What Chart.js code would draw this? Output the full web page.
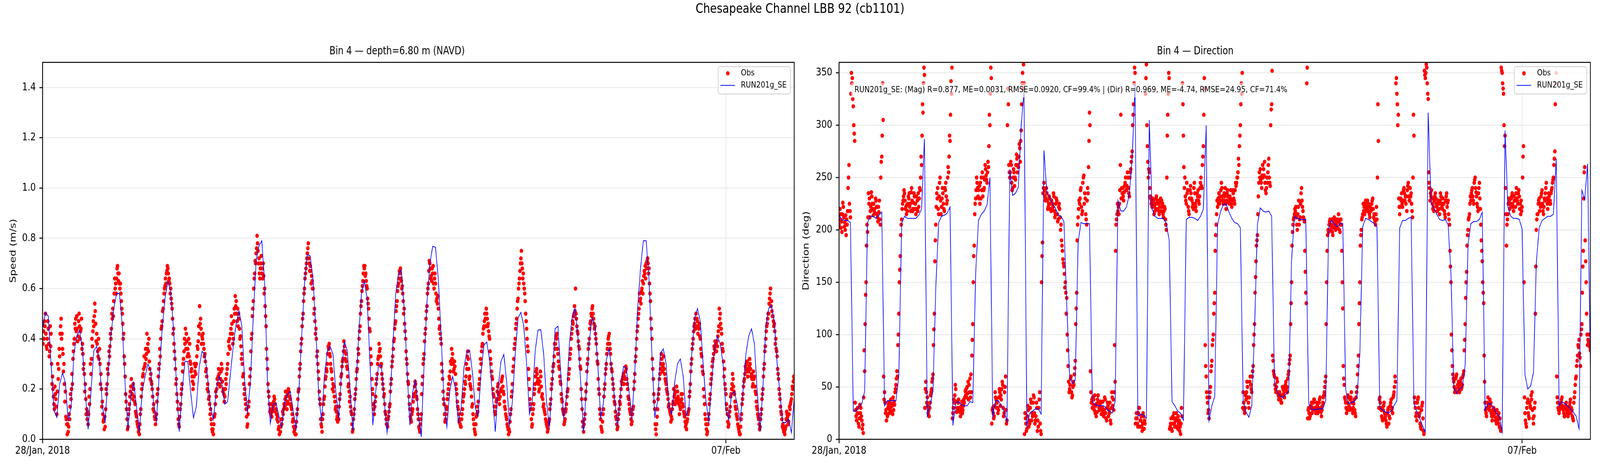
<!DOCTYPE html>
<html>
<head>
<meta charset="utf-8">
<script src="https://cdn.jsdelivr.net/npm/chart.js@4.4.1/dist/chart.umd.min.js"></script>
<style>
  html, body { margin: 0; padding: 0; background: #fff; overflow: hidden; }
  #wrap { position: relative; width: 5000px; height: 1200px; overflow: hidden; transform-origin: 0 0; }
  #suptitle { position: absolute; left: 0; top: 4px; width: 5000px; text-align: center;
              font: 34px "DejaVu Sans", sans-serif; line-height: 34px; color: #000; }
  canvas { position: absolute; top: 0; }
</style>
</head>
<body>
<div id="wrap">
  <div id="suptitle">Chesapeake Channel LBB 92 (cb1101)</div>
  <canvas id="chartSpeed" width="2615" height="1200" style="left:0px"></canvas>
  <canvas id="chartDir" width="2592" height="1200" style="left:2500px"></canvas>
</div>
<script>
// hours since 28 Jan 2018 00:00
const xTickHours = [0, 240];
const xTickLabels = ['28/Jan, 2018', '07/Feb'];
const speedTicks = [0, 0.2, 0.4, 0.6, 0.8, 1.0, 1.2, 1.4];
const dirTicks = [0, 50, 100, 150, 200, 250, 300, 350];

// obs come every 10 min: the A arrays hold :00/:30, B :10/:40, C :20/:50
const obsStepHours = 0.5;
const obsOffsetB = 1 / 6;
const obsOffsetC = 2 / 6;
const modelStepHours = 1;

// observed speed (m/s)
const obsSpeed = [
  0.46,0.40,0.50,0.36,0.44,0.35,0.42,0.25,0.14,0.18,0.10,0.24,0.33,0.48,0.36,0.30,0.19,0.06,0.03,0.08,0.16,0.22,0.38,0.44,
  0.49,0.41,0.45,0.44,0.38,0.30,0.22,0.12,0.06,0.14,0.26,0.37,0.45,0.51,0.42,0.33,0.36,0.26,0.15,0.08,0.05,0.18,0.26,0.33,
  0.40,0.48,0.55,0.60,0.64,0.66,0.62,0.58,0.50,0.42,0.25,0.12,0.05,0.14,0.21,0.18,0.20,0.14,0.09,0.05,0.02,0.12,0.22,0.28,
  0.30,0.34,0.38,0.31,0.26,0.20,0.14,0.08,0.10,0.20,0.30,0.40,0.47,0.55,0.61,0.66,0.68,0.64,0.60,0.52,0.44,0.32,0.24,0.12,
  0.05,0.14,0.22,0.32,0.38,0.42,0.36,0.33,0.30,0.25,0.22,0.27,0.30,0.36,0.42,0.48,0.41,0.38,0.34,0.28,0.22,0.17,0.12,0.04,
  0.02,0.10,0.17,0.22,0.26,0.24,0.28,0.20,0.17,0.22,0.30,0.37,0.42,0.46,0.40,0.50,0.55,0.52,0.48,0.41,0.34,0.26,0.20,0.12,
  0.06,0.15,0.28,0.42,0.55,0.66,0.74,0.78,0.72,0.68,0.66,0.70,0.60,0.45,0.28,0.17,0.12,0.09,0.13,0.16,0.12,0.09,0.05,0.03,
  0.06,0.10,0.13,0.17,0.15,0.19,0.16,0.12,0.08,0.04,0.02,0.12,0.20,0.30,0.40,0.50,0.60,0.68,0.74,0.72,0.69,0.65,0.60,0.52,
  0.44,0.35,0.24,0.14,0.05,0.10,0.17,0.25,0.30,0.36,0.33,0.27,0.22,0.17,0.13,0.09,0.08,0.18,0.26,0.32,0.37,0.34,0.28,0.22,
  0.17,0.10,0.04,0.12,0.20,0.28,0.34,0.45,0.55,0.63,0.68,0.66,0.60,0.52,0.43,0.30,0.18,0.10,0.17,0.26,0.33,0.36,0.30,0.22,
  0.18,0.10,0.06,0.09,0.14,0.24,0.33,0.40,0.47,0.55,0.62,0.66,0.63,0.58,0.52,0.40,0.30,0.22,0.12,0.07,0.12,0.18,0.22,0.16,
  0.08,0.03,0.10,0.25,0.34,0.44,0.53,0.62,0.70,0.65,0.66,0.60,0.62,0.56,0.52,0.45,0.38,0.24,0.14,0.08,0.12,0.20,0.24,0.30,
  0.34,0.28,0.26,0.18,0.12,0.08,0.05,0.12,0.18,0.22,0.28,0.32,0.25,0.20,0.14,0.06,0.02,0.10,0.15,0.24,0.30,0.38,0.45,0.48,
  0.50,0.46,0.40,0.30,0.24,0.17,0.10,0.16,0.22,0.14,0.20,0.25,0.18,0.12,0.08,0.04,0.03,0.12,0.22,0.32,0.40,0.48,0.56,0.64,
  0.72,0.68,0.62,0.55,0.44,0.35,0.20,0.12,0.06,0.14,0.22,0.28,0.24,0.20,0.25,0.18,0.14,0.10,0.06,0.04,0.08,0.16,0.24,0.30,
  0.36,0.40,0.34,0.28,0.22,0.15,0.10,0.08,0.14,0.20,0.28,0.36,0.44,0.49,0.51,0.48,0.42,0.36,0.28,0.12,0.03,0.10,0.22,0.32,
  0.40,0.47,0.52,0.48,0.45,0.38,0.30,0.18,0.08,0.03,0.12,0.22,0.30,0.38,0.42,0.34,0.27,0.20,0.14,0.08,0.05,0.12,0.17,0.22,
  0.26,0.24,0.28,0.20,0.14,0.10,0.07,0.13,0.26,0.36,0.45,0.52,0.56,0.60,0.62,0.66,0.70,0.72,0.68,0.55,0.40,0.24,0.12,0.02,
  0.12,0.20,0.28,0.32,0.30,0.26,0.22,0.18,0.14,0.10,0.08,0.15,0.18,0.16,0.19,0.14,0.12,0.16,0.13,0.09,0.06,0.08,0.12,0.22,
  0.32,0.40,0.46,0.50,0.47,0.44,0.40,0.33,0.26,0.14,0.06,0.03,0.10,0.18,0.26,0.32,0.36,0.38,0.37,0.45,0.50,0.42,0.35,0.28,
  0.18,0.10,0.06,0.13,0.20,0.24,0.18,0.12,0.08,0.04,0.02,0.10,0.18,0.24,0.28,0.31,0.27,0.30,0.26,0.22,0.25,0.18,0.12,0.08,
  0.05,0.12,0.20,0.30,0.40,0.46,0.50,0.58,0.55,0.49,0.46,0.40,0.33,0.24,0.16,0.10,0.06,0.03,0.05,0.10,0.07,0.12,0.16,0.20,
  0.24
];
const obsSpeedB = [
  0.38,0.47,0.42,0.40,0.38,0.45,0.30,0.20,0.12,0.16,0.19,0.28,0.42,0.40,0.34,0.22,0.09,0.02,0.05,0.13,0.20,0.32,0.40,0.48,
  0.44,0.47,0.40,0.48,0.34,0.26,0.16,0.08,0.10,0.20,0.32,0.43,0.49,0.46,0.38,0.40,0.30,0.20,0.10,0.04,0.12,0.22,0.30,0.37,
  0.44,0.52,0.58,0.62,0.68,0.63,0.60,0.55,0.46,0.33,0.18,0.08,0.10,0.17,0.24,0.16,0.17,0.11,0.07,0.03,0.06,0.17,0.25,0.33,
  0.36,0.42,0.35,0.28,0.23,0.17,0.11,0.06,0.15,0.25,0.36,0.44,0.51,0.58,0.64,0.67,0.66,0.62,0.56,0.48,0.38,0.28,0.18,0.08,
  0.09,0.18,0.27,0.35,0.44,0.39,0.34,0.38,0.27,0.23,0.25,0.29,0.33,0.39,0.53,0.44,0.40,0.36,0.31,0.25,0.19,0.14,0.08,0.03,
  0.06,0.14,0.20,0.25,0.22,0.27,0.23,0.18,0.20,0.26,0.34,0.40,0.44,0.42,0.47,0.57,0.50,0.45,0.44,0.37,0.30,0.22,0.16,0.09,
  0.10,0.22,0.35,0.49,0.60,0.71,0.76,0.75,0.66,0.70,0.68,0.65,0.53,0.36,0.22,0.14,0.10,0.11,0.15,0.14,0.10,0.07,0.02,0.05,
  0.08,0.12,0.16,0.14,0.18,0.17,0.14,0.10,0.05,0.02,0.07,0.16,0.25,0.35,0.45,0.55,0.64,0.70,0.76,0.70,0.67,0.63,0.56,0.47,
  0.40,0.30,0.19,0.08,0.03,0.14,0.21,0.28,0.34,0.38,0.30,0.24,0.19,0.15,0.11,0.07,0.13,0.22,0.29,0.35,0.35,0.31,0.25,0.19,
  0.13,0.06,0.08,0.16,0.24,0.31,0.40,0.50,0.59,0.66,0.69,0.63,0.56,0.48,0.36,0.24,0.14,0.13,0.22,0.30,0.38,0.33,0.26,0.20,
  0.14,0.08,0.05,0.11,0.19,0.29,0.36,0.44,0.51,0.59,0.64,0.68,0.60,0.55,0.46,0.35,0.26,0.17,0.09,0.10,0.15,0.21,0.19,0.12,
  0.05,0.06,0.18,0.30,0.39,0.48,0.58,0.67,0.68,0.63,0.69,0.64,0.58,0.54,0.48,0.42,0.30,0.19,0.10,0.10,0.16,0.22,0.27,0.36,
  0.30,0.31,0.22,0.15,0.10,0.06,0.08,0.15,0.20,0.25,0.33,0.28,0.22,0.17,0.10,0.04,0.06,0.13,0.20,0.27,0.35,0.42,0.47,0.45,
  0.48,0.43,0.35,0.27,0.20,0.13,0.13,0.19,0.18,0.17,0.23,0.21,0.15,0.10,0.06,0.02,0.07,0.17,0.27,0.36,0.44,0.52,0.60,0.67,
  0.75,0.64,0.60,0.50,0.40,0.28,0.16,0.08,0.10,0.18,0.25,0.26,0.22,0.23,0.21,0.16,0.12,0.08,0.05,0.06,0.12,0.20,0.27,0.33,
  0.38,0.42,0.31,0.25,0.18,0.12,0.06,0.11,0.17,0.24,0.32,0.40,0.47,0.50,0.60,0.45,0.39,0.32,0.20,0.07,0.06,0.16,0.27,0.36,
  0.44,0.50,0.53,0.46,0.42,0.34,0.24,0.12,0.05,0.07,0.17,0.26,0.34,0.40,0.38,0.30,0.24,0.17,0.11,0.06,0.08,0.15,0.20,0.24,
  0.22,0.27,0.24,0.17,0.12,0.08,0.10,0.20,0.31,0.40,0.48,0.58,0.54,0.63,0.65,0.69,0.68,0.70,0.62,0.48,0.32,0.18,0.06,0.06,
  0.16,0.24,0.30,0.27,0.33,0.24,0.20,0.16,0.12,0.07,0.12,0.20,0.14,0.21,0.17,0.10,0.15,0.18,0.11,0.07,0.04,0.10,0.17,0.27,
  0.36,0.43,0.48,0.45,0.42,0.46,0.36,0.29,0.20,0.10,0.04,0.06,0.14,0.22,0.29,0.34,0.39,0.35,0.41,0.52,0.46,0.38,0.31,0.22,
  0.14,0.07,0.09,0.17,0.22,0.21,0.15,0.10,0.06,0.03,0.05,0.14,0.21,0.26,0.30,0.25,0.29,0.28,0.24,0.27,0.21,0.15,0.10,0.06,
  0.08,0.16,0.25,0.35,0.43,0.48,0.54,0.60,0.51,0.47,0.43,0.36,0.28,0.20,0.13,0.08,0.04,0.02,0.08,0.09,0.10,0.14,0.18,0.23
];
const obsSpeedC = [
  0.43,0.45,0.37,0.47,0.33,0.37,0.22,0.17,0.21,0.13,0.30,0.36,0.45,0.42,0.27,0.15,0.08,0.06,0.10,0.18,0.26,0.35,0.46,0.43,
  0.39,0.50,0.43,0.36,0.28,0.19,0.10,0.11,0.17,0.30,0.40,0.47,0.54,0.39,0.35,0.32,0.22,0.13,0.07,0.09,0.20,0.28,0.35,0.42,
  0.50,0.49,0.64,0.58,0.69,0.66,0.62,0.52,0.40,0.30,0.15,0.04,0.12,0.19,0.21,0.22,0.15,0.10,0.06,0.04,0.10,0.20,0.26,0.29,
  0.32,0.36,0.40,0.24,0.22,0.12,0.09,0.08,0.18,0.28,0.33,0.45,0.52,0.60,0.62,0.69,0.63,0.58,0.54,0.42,0.35,0.22,0.15,0.06,
  0.12,0.20,0.30,0.40,0.36,0.33,0.40,0.31,0.28,0.20,0.30,0.26,0.37,0.45,0.46,0.38,0.42,0.33,0.27,0.20,0.16,0.10,0.06,0.04,
  0.09,0.19,0.24,0.28,0.21,0.30,0.19,0.15,0.24,0.28,0.39,0.36,0.49,0.38,0.52,0.53,0.47,0.50,0.40,0.32,0.25,0.18,0.14,0.05,
  0.13,0.25,0.40,0.52,0.64,0.70,0.81,0.70,0.64,0.73,0.64,0.58,0.49,0.32,0.19,0.11,0.14,0.12,0.17,0.11,0.08,0.04,0.05,0.08,
  0.11,0.14,0.19,0.12,0.20,0.14,0.13,0.07,0.03,0.05,0.10,0.19,0.28,0.38,0.48,0.58,0.66,0.72,0.78,0.67,0.62,0.60,0.50,0.42,
  0.33,0.27,0.16,0.06,0.08,0.16,0.24,0.27,0.37,0.34,0.28,0.20,0.21,0.12,0.08,0.10,0.16,0.25,0.31,0.39,0.32,0.29,0.21,0.15,
  0.11,0.03,0.10,0.18,0.27,0.36,0.43,0.53,0.61,0.69,0.65,0.61,0.54,0.44,0.33,0.20,0.12,0.15,0.24,0.32,0.35,0.29,0.24,0.17,
  0.11,0.06,0.08,0.13,0.22,0.31,0.39,0.46,0.53,0.61,0.67,0.64,0.61,0.50,0.43,0.32,0.23,0.14,0.08,0.11,0.17,0.23,0.17,0.10,
  0.04,0.08,0.22,0.32,0.42,0.51,0.60,0.71,0.64,0.68,0.62,0.66,0.55,0.57,0.44,0.40,0.27,0.16,0.07,0.13,0.18,0.25,0.31,0.32,
  0.27,0.29,0.20,0.13,0.07,0.05,0.10,0.17,0.23,0.30,0.35,0.24,0.21,0.13,0.08,0.03,0.09,0.11,0.22,0.32,0.37,0.44,0.50,0.52,
  0.45,0.41,0.32,0.25,0.18,0.11,0.15,0.21,0.16,0.19,0.24,0.19,0.13,0.09,0.05,0.04,0.10,0.19,0.29,0.38,0.46,0.55,0.62,0.70,
  0.70,0.66,0.58,0.47,0.37,0.24,0.14,0.05,0.12,0.20,0.27,0.23,0.19,0.27,0.17,0.13,0.11,0.07,0.03,0.07,0.14,0.22,0.29,0.38,
  0.41,0.36,0.29,0.23,0.16,0.11,0.07,0.12,0.19,0.26,0.34,0.42,0.46,0.53,0.50,0.43,0.37,0.29,0.16,0.05,0.08,0.19,0.30,0.38,
  0.46,0.49,0.50,0.44,0.40,0.31,0.20,0.10,0.04,0.10,0.20,0.28,0.36,0.41,0.36,0.28,0.22,0.15,0.09,0.04,0.10,0.14,0.23,0.25,
  0.25,0.29,0.22,0.16,0.11,0.06,0.12,0.23,0.33,0.43,0.50,0.55,0.59,0.58,0.67,0.64,0.71,0.66,0.58,0.44,0.28,0.15,0.04,0.09,
  0.18,0.26,0.34,0.29,0.28,0.23,0.19,0.13,0.11,0.09,0.14,0.17,0.19,0.15,0.16,0.13,0.18,0.14,0.10,0.05,0.07,0.11,0.19,0.30,
  0.38,0.45,0.44,0.48,0.45,0.41,0.34,0.27,0.17,0.08,0.02,0.08,0.16,0.24,0.31,0.37,0.35,0.39,0.43,0.48,0.44,0.36,0.25,0.20,
  0.12,0.05,0.11,0.18,0.26,0.19,0.13,0.09,0.05,0.02,0.08,0.16,0.23,0.29,0.27,0.28,0.32,0.25,0.21,0.24,0.19,0.13,0.09,0.04,
  0.10,0.18,0.28,0.37,0.45,0.50,0.56,0.53,0.49,0.45,0.38,0.35,0.26,0.18,0.11,0.05,0.03,0.04,0.11,0.06,0.13,0.15,0.21,0.25
];

// modelled speed (m/s), hourly
const modelSpeed = [
  0.44,0.505,0.49,0.30,0.115,0.087,0.22,0.264,0.227,0.075,0.126,0.34,
  0.41,0.435,0.36,0.19,0.04,0.19,0.353,0.37,0.31,0.13,0.07,0.264,
  0.41,0.52,0.58,0.58,0.45,0.22,0.04,0.17,0.227,0.13,0.033,0.19,
  0.25,0.30,0.27,0.145,0.07,0.264,0.44,0.56,0.627,0.59,0.44,0.227,
  0.03,0.19,0.31,0.31,0.19,0.085,0.13,0.286,0.35,0.338,0.24,0.13,
  0.078,0.197,0.25,0.22,0.14,0.15,0.264,0.375,0.46,0.51,0.45,0.227,
  0.108,0.227,0.487,0.71,0.77,0.79,0.62,0.227,0.063,0.14,0.145,0.093,
  0.048,0.145,0.18,0.19,0.115,0.04,0.19,0.41,0.62,0.735,0.73,0.636,
  0.43,0.175,0.07,0.25,0.35,0.37,0.338,0.19,0.085,0.264,0.39,0.353,
  0.204,0.033,0.19,0.41,0.58,0.63,0.56,0.30,0.056,0.19,0.295,0.294,
  0.15,0.026,0.15,0.368,0.576,0.66,0.674,0.52,0.28,0.056,0.19,0.235,
  0.10,0.01,0.30,0.546,0.695,0.768,0.764,0.636,0.41,0.15,0.048,0.19,
  0.25,0.204,0.067,0.123,0.286,0.347,0.355,0.264,0.123,0.093,0.264,0.375,
  0.387,0.316,0.175,0.03,0.204,0.31,0.338,0.227,0.056,0.15,0.338,0.483,
  0.505,0.45,0.30,0.10,0.15,0.35,0.435,0.436,0.338,0.15,0.048,0.227,
  0.44,0.45,0.264,0.085,0.167,0.375,0.487,0.52,0.41,0.227,0.026,0.204,
  0.39,0.483,0.45,0.30,0.085,0.145,0.316,0.36,0.264,0.15,0.056,0.19,
  0.29,0.283,0.19,0.085,0.264,0.524,0.68,0.79,0.79,0.636,0.338,0.09,
  0.15,0.342,0.36,0.30,0.13,0.10,0.227,0.30,0.32,0.25,0.093,0.123,
  0.338,0.48,0.52,0.47,0.30,0.15,0.07,0.227,0.36,0.41,0.38,0.30,
  0.115,0.078,0.18,0.19,0.138,0.07,0.19,0.338,0.41,0.44,0.38,0.19,
  0.03,0.21,0.45,0.52,0.533,0.47,0.30,0.175,0.067,0.067,0.082,0.026,
  0.167
];

// observed direction (deg)
const obsDir = [
  205,215,198,222,207,195,218,262,212,340,318,285,22,30,12,25,18,6,65,150,198,225,218,232,
  214,220,228,212,217,205,270,305,45,28,22,35,30,26,40,33,52,60,120,175,210,228,235,222,
  218,230,225,240,220,232,215,228,222,238,262,312,348,55,40,28,35,48,62,120,205,230,215,250,
  222,235,218,245,228,255,285,330,25,35,48,30,38,26,32,28,35,42,50,38,58,45,110,185,
  230,245,238,225,250,232,240,258,245,260,300,345,30,22,40,35,28,45,38,52,25,60,18,320,
  250,262,240,255,248,268,260,278,295,350,340,20,10,28,15,35,22,40,18,30,12,45,5,188,
  245,228,235,222,230,218,225,232,215,228,210,220,205,180,165,150,135,70,48,60,42,52,75,140,
  212,225,240,218,252,230,205,235,312,45,30,38,25,34,42,28,35,30,22,38,18,32,25,15,
  40,28,55,210,218,225,310,235,228,245,238,250,232,258,275,320,350,25,12,30,18,8,22,15,
  358,265,255,230,222,228,218,232,225,215,230,222,212,220,200,310,345,15,8,20,12,25,10,18,
  5,22,290,250,225,238,215,242,228,220,235,218,232,225,245,240,280,335,60,35,20,50,75,100,
  140,205,222,235,228,240,225,232,220,238,228,230,222,235,225,242,250,262,300,330,45,25,38,50,
  30,60,45,70,110,170,195,245,258,240,250,265,235,245,268,242,320,75,60,45,55,38,42,35,
  48,40,55,45,65,80,150,205,215,222,200,228,212,240,218,208,140,355,30,22,35,28,38,25,
  32,28,40,22,35,45,60,180,198,210,205,195,212,200,208,215,198,205,125,52,35,28,40,30,
  45,25,38,22,50,80,150,200,215,222,228,218,225,212,220,230,215,205,210,285,40,28,18,35,
  22,12,30,20,38,25,45,55,330,310,215,228,222,240,232,218,245,228,235,212,290,30,18,40,
  25,10,35,5,345,355,325,240,232,225,218,235,222,228,215,232,220,225,212,235,228,205,150,70,
  55,48,62,50,45,58,52,65,110,160,200,215,228,240,225,250,232,218,245,205,170,130,35,22,
  40,28,35,18,30,25,15,22,12,8,350,330,290,185,215,228,222,235,218,228,240,225,232,215,
  222,280,25,12,38,20,30,45,15,35,200,215,230,222,238,215,228,245,220,232,225,240,250,275,
  350,35,25,30,40,28,22,35,30,25,38,28,18,45,60,80,95,70,110,180,260,150,90,100,
  85
];
const obsDirB = [
  210,202,215,212,200,210,240,225,330,345,300,35,18,25,20,30,10,40,110,185,212,230,222,225,
  225,216,222,208,228,250,290,60,35,18,30,25,38,32,28,45,58,90,150,195,220,232,228,215,
  225,235,218,228,226,220,232,218,230,250,290,340,30,45,32,22,42,55,90,170,222,240,232,228,
  230,225,240,232,250,270,310,355,30,42,36,28,30,22,36,32,40,48,44,52,40,80,150,215,
  238,240,230,245,238,250,248,252,255,280,330,15,25,32,38,30,40,32,48,30,45,28,300,262,
  255,245,250,242,262,255,270,265,320,335,5,15,22,12,30,18,35,25,22,8,30,15,150,235,
  238,230,228,225,220,228,222,218,225,215,222,212,190,172,158,140,100,55,52,45,50,62,110,190,
  220,230,222,245,225,215,228,260,300,35,40,28,32,26,35,32,24,36,28,25,30,22,35,30,
  32,45,180,215,222,238,230,240,236,250,242,240,250,265,300,340,15,20,25,12,22,15,10,330,
  300,250,240,225,230,215,225,220,228,222,218,225,218,210,250,330,10,20,15,25,18,12,22,8,
  15,340,260,232,245,222,230,235,222,240,225,228,238,232,250,262,310,90,45,25,40,65,90,120,
  180,215,230,225,238,232,228,240,228,232,225,238,228,230,238,245,255,280,320,350,35,30,45,40,
  40,52,60,90,140,185,215,255,248,252,258,245,240,255,250,300,352,65,52,50,45,40,38,42,
  42,50,48,58,72,110,185,210,220,212,215,205,225,228,212,180,130,20,25,30,25,35,30,30,
  25,35,30,28,40,50,110,195,205,200,210,202,205,210,202,208,205,180,70,40,30,35,32,38,
  35,30,28,40,62,110,185,210,225,215,222,228,218,222,225,220,210,215,250,30,35,22,28,25,
  18,25,15,32,28,40,50,340,320,230,222,235,228,235,225,238,232,240,225,250,40,22,35,30,
  15,28,20,352,350,340,255,228,238,220,228,230,218,225,228,225,230,218,228,222,215,180,100,62,
  50,58,45,55,52,48,60,85,135,185,210,225,235,232,245,240,225,235,230,190,150,80,28,30,
  32,38,25,28,22,18,28,15,20,355,340,300,240,205,225,220,230,225,232,222,230,235,220,228,
  250,150,18,30,25,35,42,28,22,120,210,225,218,232,225,222,235,230,228,225,235,245,262,320,
  60,30,28,35,32,25,30,28,22,32,25,22,35,52,70,90,82,100,140,230,190,120,95,90
];
const obsDirC = [
  220,208,226,203,214,205,250,218,350,325,292,28,24,15,33,22,14,85,138,205,235,212,236,220,
  218,230,215,222,210,265,340,38,25,24,33,28,34,24,36,48,65,100,162,205,225,238,220,224,
  232,222,236,218,235,225,220,235,240,270,320,355,48,35,25,30,45,58,105,190,235,220,245,215,
  240,220,238,225,260,290,342,20,38,52,26,35,28,30,25,38,46,40,55,45,62,95,175,225,
  250,232,242,230,255,238,262,248,265,310,355,28,20,45,30,25,48,42,55,22,50,15,335,255,
  265,238,258,250,272,262,282,285,340,358,25,8,32,18,38,25,42,15,35,18,38,8,175,240,
  232,240,220,232,225,220,235,212,230,208,225,200,185,168,145,120,85,45,58,40,55,68,125,205,
  228,238,215,250,235,210,240,285,65,38,32,42,22,38,30,36,28,25,40,20,35,28,18,45,
  38,90,205,225,215,262,240,232,242,238,255,235,255,270,310,355,20,15,30,18,12,25,18,345,
  280,258,232,228,225,222,230,228,218,226,228,215,222,205,290,350,12,10,22,15,20,18,15,12,
  30,320,240,228,235,218,238,230,225,245,222,235,228,240,242,270,345,70,40,28,45,70,95,130,
  195,228,225,232,245,228,235,225,235,226,232,225,238,228,245,250,268,290,340,30,28,42,55,35,
  55,48,65,100,155,190,232,250,245,262,252,238,250,262,245,315,80,62,48,58,42,45,35,50,
  45,52,50,62,76,130,198,212,218,205,222,210,235,222,210,160,340,28,20,32,30,38,28,35,
  30,38,26,32,42,55,150,200,208,204,198,208,202,206,210,200,210,150,58,38,25,42,28,40,
  28,34,25,45,70,130,195,212,218,225,220,222,215,218,228,212,208,222,320,38,30,20,32,20,
  15,28,22,35,30,42,60,345,300,222,230,225,238,228,232,242,228,232,218,310,35,25,38,22,
  12,32,8,348,358,330,245,235,230,222,232,225,225,220,235,222,225,215,232,226,210,165,85,58,
  45,60,52,48,55,50,62,95,150,195,212,232,238,228,248,236,222,240,220,180,140,55,25,35,
  30,32,22,25,28,20,18,25,10,352,335,280,215,210,230,225,232,222,228,235,228,238,225,218,
  270,40,15,35,22,32,38,20,30,165,215,228,225,235,218,230,240,225,235,228,238,248,268,340,
  40,28,32,38,30,22,32,25,28,35,30,20,40,58,75,88,78,105,165,255,170,100,92,88
];

// modelled direction (deg), hourly
const modelDir = [
  214,210,209,209,207,27,27,31,34,46,207,213,
  213,211,214,217,32,37,37,37,37,60,206,213,
  211,211,211,211,214,220,287,22,32,46,145,207,
  213,214,216,222,13,35,36,33,32,32,36,35,
  159,209,215,218,224,250,22,37,37,32,27,17,
  258,233,235,241,300,332,13,25,27,29,29,24,
  276,236,231,225,221,214,213,208,129,60,53,57,
  188,207,206,206,206,36,33,32,32,32,29,27,
  25,36,228,218,218,222,234,268,340,22,24,23,
  20,305,220,213,211,211,211,206,190,36,32,27,
  25,18,210,212,212,211,209,213,220,300,18,32,
  41,205,217,224,225,217,211,207,206,202,36,26,
  21,32,106,205,221,218,217,218,213,55,45,41,
  40,43,46,171,213,211,210,210,210,34,29,28,
  29,29,29,37,201,209,206,203,206,206,48,34,
  35,36,41,83,203,211,210,208,206,203,30,28,
  26,25,27,32,37,202,209,209,211,212,34,27,
  20,13,7,312,227,221,215,210,209,210,205,159,
  49,44,48,50,71,186,206,208,208,210,217,28,
  34,34,30,25,22,7,295,222,213,211,211,210,
  201,62,48,51,64,169,202,209,211,213,213,215,
  268,32,36,34,32,29,26,22,10,238,229,263,
  65
];

const statText = 'RUN201g_SE: (Mag) R=0.877, ME=0.0031, RMSE=0.0920, CF=99.4% | (Dir) R=0.969, ME=-4.74, RMSE=24.95, CF=71.4%';

// the page is laid out at 5000x1200 and fitted to whatever viewport we get
const wrap = document.getElementById('wrap');
wrap.style.transform = 'scale(' + (window.innerWidth / 5000) + ',' + (window.innerHeight / 1200) + ')';

Chart.defaults.font.family = '"DejaVu Sans", sans-serif';
Chart.defaults.color = '#000';
Chart.defaults.animation = false;

function obsPoints(a, b, c) {
  const pts = [];
  a.forEach((v, i) => pts.push({x: i * obsStepHours, y: v}));
  b.forEach((v, i) => pts.push({x: i * obsStepHours + obsOffsetB, y: v}));
  c.forEach((v, i) => pts.push({x: i * obsStepHours + obsOffsetC, y: v}));
  return pts.sort((p, q) => p.x - q.x);
}

function modelPoints(values) {
  return values.map((v, i) => ({x: i * modelStepHours, y: v}));
}

// box around the axes, stats note, legend in upper right
const axesExtras = {
  id: 'axesExtras',
  afterDatasetsDraw(chart, args, opts) {
    const {ctx, chartArea: a} = chart;
    ctx.save();
    if (opts.note) {
      ctx.font = '22px "DejaVu Sans"';
      const w = ctx.measureText(opts.note).width;
      const x = a.left + 48, y = a.top + 71;
      ctx.fillStyle = 'rgba(255,255,255,0.6)';
      ctx.fillRect(x - 10, y - 19, w + 20, 38);
      ctx.fillStyle = '#000';
      ctx.textBaseline = 'middle';
      ctx.fillText(opts.note, x, y);
    }
    ctx.strokeStyle = '#000';
    ctx.lineWidth = 2.5;
    ctx.strokeRect(a.left, a.top, a.right - a.left, a.bottom - a.top);
    ctx.restore();
  },
  afterDraw(chart) {
    const {ctx, chartArea: a} = chart;
    const sets = chart.data.datasets;
    ctx.save();
    ctx.font = '22px "DejaVu Sans"';
    const tw = Math.max(...sets.map(d => ctx.measureText(d.label).width));
    const bw = 71 + tw + 12, bh = 70;
    const bx = a.right - 12 - bw, by = a.top + 11;
    ctx.beginPath();
    ctx.roundRect(bx, by, bw, bh, 6);
    ctx.fillStyle = 'rgba(255,255,255,0.8)';
    ctx.fill();
    ctx.strokeStyle = '#cccccc';
    ctx.lineWidth = 2;
    ctx.stroke();
    sets.forEach((d, i) => {
      const ry = by + 17 + i * 31;
      if (d.showLine) {
        ctx.strokeStyle = d.borderColor;
        ctx.lineWidth = d.borderWidth;
        ctx.beginPath();
        ctx.moveTo(bx + 7, ry);
        ctx.lineTo(bx + 52, ry);
        ctx.stroke();
      } else {
        ctx.fillStyle = d.backgroundColor;
        ctx.beginPath();
        ctx.arc(bx + 30, ry, d.pointRadius, 0, Math.PI * 2);
        ctx.fill();
      }
      ctx.fillStyle = '#000';
      ctx.textBaseline = 'middle';
      ctx.fillText(d.label, bx + 71, ry);
    });
    ctx.restore();
  }
};

function makeChart(id, o) {
  return new Chart(document.getElementById(id), {
    type: 'scatter',
    data: {
      datasets: [{
        label: 'Obs',
        data: o.obs,
        showLine: false,
        pointRadius: 5.5,
        pointBorderWidth: 0,
        backgroundColor: '#ff0000',
        borderColor: '#ff0000',
        order: 1
      }, {
        label: 'RUN201g_SE',
        data: o.model,
        showLine: true,
        pointRadius: 0,
        borderColor: '#0000ff',
        backgroundColor: '#0000ff',
        borderWidth: 2,
        tension: 0,
        order: 0
      }]
    },
    options: {
      responsive: false,
      devicePixelRatio: 1,
      layout: {padding: {left: 0, right: o.padRight, top: 0, bottom: 0}},
      plugins: {
        legend: {display: false},
        tooltip: {enabled: false},
        title: {
          display: true,
          text: o.title,
          font: {size: 27.5, weight: 'normal'},
          color: '#000',
          padding: {top: 115, bottom: 11.6}
        },
        axesExtras: {note: o.note}
      },
      scales: {
        x: {
          type: 'linear',
          min: 0,
          max: 264,
          afterBuildTicks: s => { s.ticks = xTickHours.map(v => ({value: v})); },
          afterFit: s => { s.height = 76; },
          ticks: {
            autoSkip: false,
            maxRotation: 0,
            padding: 4,
            font: {size: 27},
            callback: v => xTickLabels[xTickHours.indexOf(v)]
          },
          grid: {color: '#ebebeb', lineWidth: 2.5, tickColor: '#000', tickLength: 10, tickWidth: 2.5},
          border: {display: false}
        },
        y: {
          type: 'linear',
          min: 0,
          max: o.yMax,
          afterBuildTicks: s => { s.ticks = o.yTicks.map(v => ({value: v})); },
          afterFit: s => { s.width = o.yWidth; },
          ticks: {
            padding: 11,
            font: {size: 27},
            callback: o.yFmt
          },
          title: {
            display: true,
            text: o.yTitle,
            font: {size: 27},
            padding: {top: o.yTitlePad, bottom: 0}
          },
          grid: {color: '#ebebeb', lineWidth: 2.5, tickColor: '#000', tickLength: 10, tickWidth: 2.5},
          border: {display: false}
        }
      }
    },
    plugins: [axesExtras]
  });
}

// canvases are wider than the axes on the right so that each title centres over its own axes
makeChart('chartSpeed', {
  obs: obsPoints(obsSpeed, obsSpeedB, obsSpeedC),
  model: modelPoints(modelSpeed),
  title: 'Bin 4 \u2014 depth=6.80 m (NAVD)',
  yTitle: 'Speed (m/s)',
  yMax: 1.5,
  yTicks: speedTicks,
  yFmt: v => v.toFixed(1),
  yWidth: 133,
  yTitlePad: 26,
  padRight: 133,
  note: ''
});

makeChart('chartDir', {
  obs: obsPoints(obsDir, obsDirB, obsDirC),
  model: modelPoints(modelDir),
  title: 'Bin 4 \u2014 Direction',
  yTitle: 'Direction (deg)',
  yMax: 360,
  yTicks: dirTicks,
  yFmt: v => String(v),
  yWidth: 122,
  yTitlePad: 4,
  padRight: 122,
  note: statText
});
</script>
</body>
</html>
